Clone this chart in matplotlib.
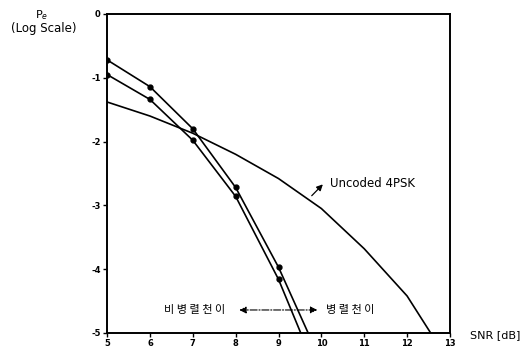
import matplotlib.pyplot as plt

plt.rcParams['font.family'] = ['DejaVu Sans', 'Noto Sans CJK KR']

snr = [5, 6, 7, 8, 9, 10]
# parallel transitions (right curve) and non-parallel (left curve)
pe_parallel = [-0.72, -1.14, -1.80, -2.72, -3.97, -5.46]
pe_nonparallel = [-0.95, -1.34, -1.98, -2.86, -4.16, -5.78]

snr_uncoded = [5, 6, 7, 8, 9, 10, 11, 12, 12.55]
pe_uncoded = [-1.38, -1.60, -1.87, -2.20, -2.58, -3.05, -3.68, -4.42, -5.0]

xticks = [5, 6, 7, 8, 9, 10, 11, 12, 13]
yticks = [0, -1, -2, -3, -4, -5]

fig = plt.figure(figsize=(5.25, 3.49), dpi=100)
ax = fig.add_axes([0.204, 0.046, 0.653, 0.914])

ax.plot(snr, pe_parallel, color='black', lw=1.2, marker='o', ms=3.5, markevery=slice(0, 5))
ax.plot(snr, pe_nonparallel, color='black', lw=1.2, marker='o', ms=3.5, markevery=slice(0, 5))
ax.plot(snr_uncoded, pe_uncoded, color='black', lw=1.2)

ax.set_xlim(5, 13)
ax.set_ylim(-5, 0)
ax.set_xticks(xticks)
ax.set_yticks(yticks)
ax.set_xticklabels([str(t) for t in xticks], fontsize=6, fontweight='bold')
ax.set_yticklabels([str(t) for t in yticks], fontsize=6, fontweight='bold')
ax.tick_params(direction='out', length=3, width=1, pad=1.5)
for s in ax.spines.values():
    s.set_linewidth(1.4)

ax.text(10.2, -2.65, 'Uncoded 4PSK', fontsize=8.5, va='center', ha='left')
ax.annotate('', xy=(10.08, -2.64), xytext=(9.73, -2.88),
            arrowprops=dict(arrowstyle='-|>', color='black', lw=0.9, mutation_scale=9))

ax.text(7.75, -4.64, '비 병 렬 천 이', fontsize=8, ha='right', va='center',
        family=['Noto Sans CJK KR'])
ax.text(10.1, -4.64, '병 렬 천 이', fontsize=8, ha='left', va='center',
        family=['Noto Sans CJK KR'])
ax.annotate('', xy=(8.02, -4.64), xytext=(9.97, -4.64),
            arrowprops=dict(arrowstyle='<|-|>', color='black', lw=0.8,
                            linestyle='-.', mutation_scale=10))

fig.text(0.080, 0.958, 'P$_e$', fontsize=8, ha='center', va='center')
fig.text(0.084, 0.918, '(Log Scale)', fontsize=8.5, ha='center', va='center')
fig.text(0.895, 0.04, 'SNR [dB]', fontsize=8, ha='left', va='center')

fig.savefig('out.png', dpi=100)
